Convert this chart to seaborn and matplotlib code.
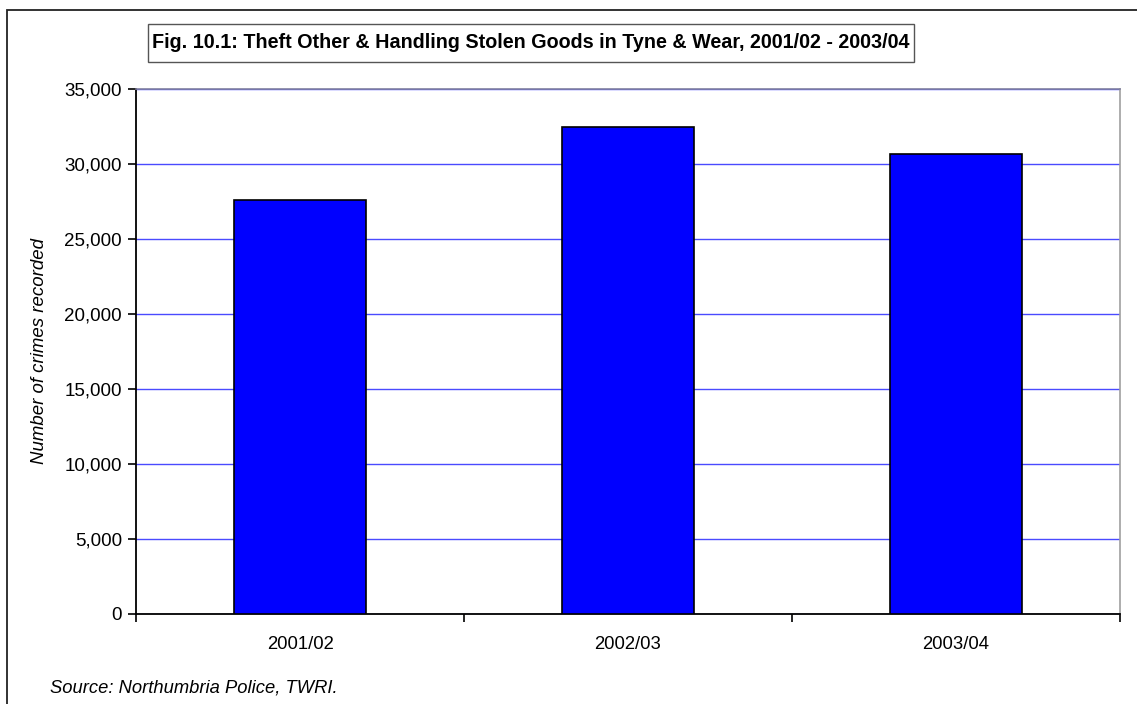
import matplotlib
matplotlib.use("Agg")
import matplotlib.pyplot as plt
import matplotlib.patches as mpatches
from matplotlib.ticker import FuncFormatter, FixedLocator
import seaborn as sns
import pandas as pd

# Recorded crimes per financial year
years = ["2001/02", "2002/03", "2003/04"]
crimes = [27600, 32450, 30650]

title = "Fig. 10.1: Theft Other & Handling Stolen Goods in Tyne & Wear, 2001/02 - 2003/04"
y_label = "Number of crimes recorded"
source = "Source: Northumbria Police, TWRI."

sns.set_theme(style="white")
plt.rcParams["font.family"] = ["Liberation Sans", "DejaVu Sans"]
plt.rcParams["text.color"] = "black"
plt.rcParams["axes.labelcolor"] = "black"

df = pd.DataFrame({"year": years, "crimes": crimes})

W, H = 1137, 704
fig = plt.figure(figsize=(W / 100, H / 100), dpi=100)
ax = fig.add_axes([136 / W, 1 - 614 / H, 984 / W, 525 / H])

sns.barplot(data=df, x="year", y="crimes", color="#0000ff", saturation=1,
            width=0.4, edgecolor="black", linewidth=1.2, ax=ax, zorder=3)

ax.set_xlim(-0.5, 2.5)
ax.set_ylim(0, 35000)
ax.set_yticks(range(0, 35001, 5000))
ax.yaxis.set_major_formatter(FuncFormatter(lambda v, p: f"{int(v):,}"))
ax.grid(axis="y", color="#4a4aff", linewidth=1.0, zorder=0)
ax.set_axisbelow(True)

# category boundary ticks on the x axis
ax.xaxis.set_minor_locator(FixedLocator([-0.5, 0.5, 1.5, 2.5]))
ax.tick_params(axis="x", which="major", length=0, pad=16, labelsize=13.3,
               labelcolor="black")
ax.tick_params(axis="x", which="minor", bottom=True, length=6, width=1.2, color="black")
ax.tick_params(axis="y", which="major", left=True, length=6, width=1.2, color="black",
               labelsize=13.5, labelcolor="black", pad=4)

ax.set_xlabel("")
ax.set_ylabel(y_label, fontsize=13.4, style="italic", color="black")
ax.yaxis.set_label_coords(-0.089, 0.5)

for side in ("left", "bottom"):
    ax.spines[side].set_color("black")
    ax.spines[side].set_linewidth(1.3)
ax.spines["top"].set_color("#8080a0")
ax.spines["top"].set_linewidth(1.2)
ax.spines["right"].set_color("#a0a0a0")
ax.spines["right"].set_linewidth(1.2)

# title in its own framed box
fig.patches.append(mpatches.Rectangle((148 / W, 1 - 62 / H), 766 / W, 38 / H,
                                      transform=fig.transFigure, facecolor="white",
                                      edgecolor="#555555", linewidth=1))
fig.text(531 / W, 1 - 43 / H, title, ha="center", va="center",
         fontsize=14.2, fontweight="bold", color="black")

fig.text(50 / W, 1 - 688 / H, source, ha="left", va="center",
         fontsize=13.2, style="italic", color="black")

# outer chart frame
fig.patches.append(mpatches.Rectangle((7 / W, -0.05), 1.1, 1 - 10 / H + 0.05,
                                      transform=fig.transFigure, fill=False,
                                      edgecolor="#222222", linewidth=1.3))

fig.savefig("out.png", dpi=100)
